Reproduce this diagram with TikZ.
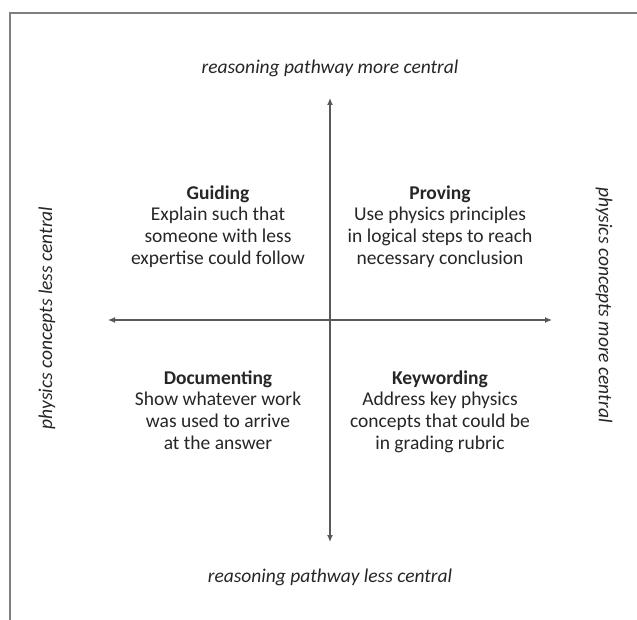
\documentclass[tikz,border=0pt]{standalone}
\usepackage{fontspec}
\setmainfont{Carlito}
\usetikzlibrary{arrows.meta,positioning}
\definecolor{framegray}{HTML}{7F7F7F}
\definecolor{axisgray}{HTML}{595959}
\definecolor{inkgray}{HTML}{262626}

\begin{document}
\begin{tikzpicture}[x=1pt,y=-1pt,
    quad/.style={align=center,anchor=north,text=inkgray,font=\fontsize{19.5}{21.6}\selectfont},
    axislabel/.style={text=inkgray,font=\fontsize{19.5}{22}\selectfont\itshape}]
        \useasboundingbox (0,0) rectangle (637,620);
        % open frame, top and left edge only
        \draw[framegray,line width=1.5pt] (10,620)--(10,13)--(637,13);
        % the two axes
        \coordinate (west) at (108,320);
        \coordinate (east) at (552,320);
        \coordinate (north) at (330,98);
        \coordinate (south) at (330,542);
        \draw[axisgray,line width=1.2pt,{Latex[length=7pt,width=6pt]}-{Latex[length=7pt,width=6pt]}] (west)--(east);
        \draw[axisgray,line width=1.2pt,{Latex[length=7pt,width=6pt]}-{Latex[length=7pt,width=6pt]}] (north)--(south);
        % axis labels
        \node[axislabel] (moreway) at (330,68) {reasoning pathway more central};
        \node[axislabel] (lessway) at (330,577) {reasoning pathway less central};
        \node[axislabel,rotate=90] (lessphys) at (47,318) {physics concepts less central};
        \node[axislabel,rotate=-90] (morephys) at (604,305) {physics concepts more central};
        % the four quadrants
        \node[quad] (guiding) at (218,182) {\textbf{Guiding}\\Explain such that\\someone with less\\expertise could follow};
        \node[quad] (proving) at (440,182) {\textbf{Proving}\\Use physics principles\\in logical steps to reach\\necessary conclusion};
        \node[quad] (documenting) at (218,367) {\textbf{Documenting}\\Show whatever work\\was used to arrive\\at the answer};
        \node[quad] (keywording) at (440,367) {\textbf{Keywording}\\Address key physics\\concepts that could be\\in grading rubric};
      \end{tikzpicture}
\end{document}
